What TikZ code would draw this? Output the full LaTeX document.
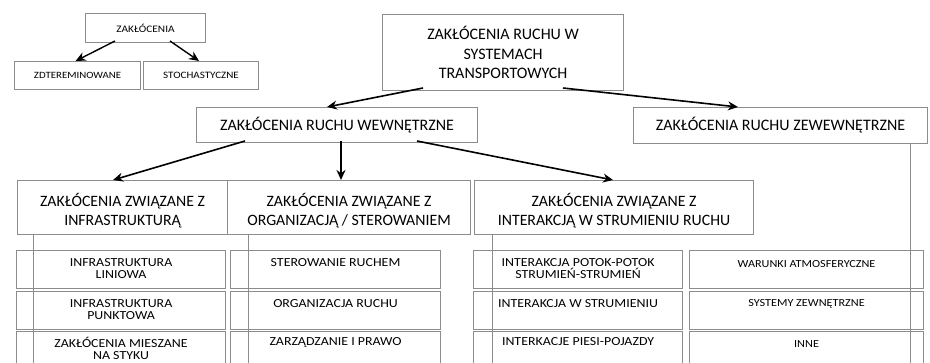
\documentclass[tikz,border=0pt]{standalone}
\usepackage{fontspec}
\setmainfont{Carlito}
\newfontfamily\widefont[FakeStretch=1.13]{Carlito}
\usetikzlibrary{calc,arrows.meta}
\begin{document}
\begin{tikzpicture}[x=1pt,y=-1pt,
  box/.style={draw=black!45,line width=1.1pt,rectangle,inner sep=0pt,anchor=north west},
  lbl/.style={align=center,text=black,inner sep=0pt},
  arr/.style={line width=1.6pt,-{Stealth[length=10pt,width=9pt]}},
  vline/.style={draw=black!45,line width=1pt}]
\clip (0,0) rectangle (930,362);
\useasboundingbox (0,0) rectangle (930,362);
% small diagram
\node[box,minimum width=120pt,minimum height=29pt] (z) at (85,13) {};
\node[lbl,font=\widefont\fontsize{10}{13}\selectfont] (zt) at (z.center) {ZAKŁÓCENIA};
\node[box,minimum width=126pt,minimum height=28pt] (zd) at (14,61) {};
\node[lbl,font=\widefont\fontsize{9.6}{13}\selectfont] (zdt) at (zd.center) {ZDTEREMINOWANE};
\node[box,minimum width=115pt,minimum height=28pt] (zs) at (143,61) {};
\node[lbl,font=\widefont\fontsize{9.8}{13}\selectfont] (zst) at (zs.center) {STOCHASTYCZNE};
\coordinate (zA) at (115,41);
\coordinate (zB) at (170,41);
\draw[arr,line width=1.4pt] (zA) -- ($(zd.north)+(-2,0)$);
\draw[arr,line width=1.4pt] (zB) -- ($(zs.north)+(-2,0)$);
% top
\node[box,minimum width=241pt,minimum height=76pt] (top) at (382,14) {};
\node[lbl,font=\fontsize{16}{19.5}\selectfont] (topt) at (top.center) {ZAKŁÓCENIA RUCHU W\\SYSTEMACH\\TRANSPORTOWYCH};
% second level
\node[box,minimum width=281pt,minimum height=35pt] (wew) at (196,107) {};
\node[lbl,font=\fontsize{16}{19}\selectfont] (wewt) at (wew.center) {ZAKŁÓCENIA RUCHU WEWNĘTRZNE};
\node[box,minimum width=294pt,minimum height=36pt] (zew) at (633,107) {};
\node[lbl,font=\fontsize{16}{19}\selectfont] (zewt) at (zew.center) {ZAKŁÓCENIA RUCHU ZEWEWNĘTRZNE};
\coordinate (tA) at (423,88);
\coordinate (tB) at (563,88);
\draw[arr] (tA) -- (327,107);
\draw[arr] (tB) -- (738,107);
% third level
\node[box,minimum width=210pt,minimum height=54pt] (c1) at (17,180) {};
\node[box,minimum width=243pt,minimum height=54pt] (c2) at (227,180) {};
\node[box,minimum width=279pt,minimum height=54pt] (c3) at (474,180) {};
\tikzset{mt/.style={lbl,font=\fontsize{15.8}{19}\selectfont}}
\node[mt] (c1t) at ($(c1.center)+(0,3)$) {ZAKŁÓCENIA ZWIĄZANE Z\\INFRASTRUKTURĄ};
\node[mt] (c2t) at ($(c2.center)+(0,3)$) {ZAKŁÓCENIA ZWIĄZANE Z\\ORGANIZACJĄ / STEROWANIEM};
\node[mt] (c3t) at ($(c3.center)+(0,3)$) {ZAKŁÓCENIA ZWIĄZANE Z\\INTERAKCJĄ W STRUMIENIU RUCHU};
\coordinate (wA) at (245,141);
\coordinate (wB) at (341,141);
\coordinate (wC) at (417,141);
\draw[arr] (wA) -- (113,180);
\draw[arr] (wB) -- (341,180);
\draw[arr] (wC) -- (613,180);
% bottom boxes
\foreach \n/\x/\w in {a/16/209,b/230/210,c/473/209,d/689/234}{
  \node[box,minimum width=\w pt,minimum height=38pt] (\n1) at (\x,250) {};
  \node[box,minimum width=\w pt,minimum height=38pt] (\n2) at (\x,291) {};
  \node[box,minimum width=\w pt,minimum height=40pt] (\n3) at (\x,331) {};
}
\tikzset{bt/.style={lbl,font=\widefont\fontsize{12.3}{12}\selectfont,anchor=north}}
\tikzset{bs/.style={lbl,font=\widefont\fontsize{10.8}{11}\selectfont,anchor=north}}
\node[bt] (a1t) at ($(a1.north)+(0,8)$) {INFRASTRUKTURA\\LINIOWA};
\node[bt] (a2t) at ($(a2.north)+(0,8)$) {INFRASTRUKTURA\\PUNKTOWA};
\node[bt] (a3t) at ($(a3.north)+(0,6)$) {ZAKŁÓCENIA MIESZANE\\NA STYKU};
\node[bt] (b1t) at ($(b1.north)+(0,8)$) {STEROWANIE RUCHEM};
\node[bt] (b2t) at ($(b2.north)+(0,8)$) {ORGANIZACJA RUCHU};
\node[bt] (b3t) at ($(b3.north)+(0,6)$) {ZARZĄDZANIE I PRAWO};
\node[bt] (c1x) at ($(c1.north)+(0,8)$) {INTERAKCJA POTOK-POTOK\\STRUMIEŃ-STRUMIEŃ};
\node[bt] (c2x) at ($(c2.north)+(0,8)$) {INTERAKCJA W STRUMIENIU};
\node[bt] (c3x) at ($(c3.north)+(0,6)$) {INTERKACJE PIESI-POJAZDY};
\node[bs] (d1t) at ($(d1.north)+(0,10)$) {WARUNKI ATMOSFERYCZNE};
\node[bs] (d2t) at ($(d2.north)+(0,8)$) {SYSTEMY ZEWNĘTRZNE};
\node[bs] (d3t) at ($(d3.north)+(0,9)$) {INNE};
% vertical lines
\coordinate (v1) at (33,234);
\coordinate (v2) at (248,234);
\coordinate (v3) at (492,234);
\coordinate (v4) at (910,143);
\coordinate (e1) at (33,370);
\coordinate (e2) at (248,370);
\coordinate (e3) at (492,370);
\coordinate (e4) at (910,370);
\draw[vline] (v1) -- (e1);
\draw[vline] (v2) -- (e2);
\draw[vline] (v3) -- (e3);
\draw[vline] (v4) -- (e4);
\end{tikzpicture}
\end{document}
